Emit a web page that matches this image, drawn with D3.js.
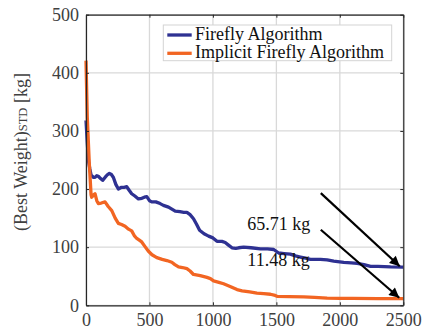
<!DOCTYPE html>
<html><head><meta charset="utf-8">
<script src="https://cdn.jsdelivr.net/npm/d3@7"></script>
<style>body{margin:0;background:#fff}svg{display:block}</style>
</head><body>
<svg id="c" width="431" height="332"></svg>
<script>
const xTicks = [0, 500, 1000, 1500, 2000, 2500];
const yTicks = [0, 100, 200, 300, 400, 500];
const seriesNames = ["Firefly Algorithm", "Implicit Firefly Algorithm"];
const faIter = [0,10,20,30,40,50,60,71,85,97,115,131,150,170,184,200,216,235,255,280,300,321,340,360,385,413,440,460,479,500,518,550,584,610,650,680,703,740,770,795,820,847,870,895,930,966,1000,1032,1071,1097,1120,1150,1180,1203,1242,1300,1374,1430,1479,1518,1560,1610,1650,1689,1730,1768,1847,1900,1952,2031,2090,2137,2190,2242,2300,2400,2500];
const faVal = [318,280,248,235,224,222,220,220,223,222,218,215,220,225,227,225,220,208,200,203,203,204,198,192,188,183,184,186,187,180,178,178,175,172,169,165,162,161,160,160,156,149,140,129,123,119,116,110,110,108,104,99,98,99,100,99,97,97,96,90,89,88,85,83,81,79,79,78,76,74,73,72,70,67,67,66,65.71];
const ifaIter = [0,10,26,40,45,60,71,85,97,120,150,175,203,230,255,280,308,335,360,380,400,420,439,465,492,520,558,600,637,676,700,729,760,795,820,847,900,953,980,1005,1040,1084,1140,1190,1230,1290,1347,1400,1453,1490,1505,1600,1716,1800,1900,2000,2100,2300,2500];
const ifaVal = [421,324,244,190,186,190,192,180,175,176,178,170,163,150,141,139,136,131,128,120,115,112,109,101,93,87,82,79,77,74,70,66,65,63,59,53,51,48,46,42,40,37,32,27,25,23,21,20,19,17,15.5,15,14.5,13.5,12.5,12,11.8,11.6,11.48];
const annoText = ["65.71 kg", "11.48 kg"];
const annoTextAt = [[1271, 129], [1271, 67]];
const arrowFrom = [[1850, 193], [1850, 130]];
const arrowTo = [[2472, 67.2], [2468, 13.0]];

const svg = d3.select("#c");
const m = {l:86, r:403.3, t:14.7, b:305.3};
const x = d3.scaleLinear().domain([0,2500]).range([m.l, m.r]);
const y = d3.scaleLinear().domain([0,500]).range([m.b, m.t]);
const font = "'Liberation Serif', 'DejaVu Serif', 'Noto Serif', serif";
const fs = 18;
const axisCol = "#262626", tickCol = "#404040";

// grid
const g = svg.append("g");
g.selectAll(".gx").data(xTicks).join("line")
  .attr("x1", d=>x(d)).attr("x2", d=>x(d)).attr("y1", m.t).attr("y2", m.b)
  .attr("stroke", "#d9d9d9").attr("stroke-width", 1.3);
g.selectAll(".gy").data(yTicks).join("line")
  .attr("y1", d=>y(d)).attr("y2", d=>y(d)).attr("x1", m.l).attr("x2", m.r)
  .attr("stroke", "#d9d9d9").attr("stroke-width", 1.3);

// lines
const line = d3.line().x(d=>x(d[0])).y(d=>y(d[1]));
const faData = faIter.map((d,i)=>[d, faVal[i]]);
const ifaData = ifaIter.map((d,i)=>[d, ifaVal[i]]);
const colors = ["#2e3192", "#f26522"];
svg.append("path").datum(faData).attr("d", line).attr("fill","none")
  .attr("stroke", colors[0]).attr("stroke-width", 3.3).attr("stroke-linejoin","round");
svg.append("path").datum(ifaData).attr("d", line).attr("fill","none")
  .attr("stroke", colors[1]).attr("stroke-width", 3.3).attr("stroke-linejoin","round");

// axes
const fmt = d3.format("d");
const axB = svg.append("g").attr("transform", `translate(0,${m.b})`)
  .call(d3.axisBottom(x).tickValues(xTicks).tickFormat(fmt).tickSizeInner(-3).tickSizeOuter(0).tickPadding(8));
const axL = svg.append("g").attr("transform", `translate(${m.l},0)`)
  .call(d3.axisLeft(y).tickValues(yTicks).tickFormat(fmt).tickSizeInner(-3).tickSizeOuter(0).tickPadding(7));
const axT = svg.append("g").attr("transform", `translate(0,${m.t})`)
  .call(d3.axisTop(x).tickValues(xTicks).tickSizeInner(-3).tickSizeOuter(0).tickFormat(""));
const axR = svg.append("g").attr("transform", `translate(${m.r},0)`)
  .call(d3.axisRight(y).tickValues(yTicks).tickSizeInner(-3).tickSizeOuter(0).tickFormat(""));
[axB, axL, axT, axR].forEach(a=>{
  a.attr("font-family", font).attr("font-size", fs);
  a.select(".domain").attr("stroke", axisCol).attr("stroke-width", 1.2);
  a.selectAll(".tick line").attr("stroke", axisCol).attr("stroke-width", 1);
  a.selectAll("text").attr("font-family", font).attr("font-size", fs).attr("fill", tickCol);
});

// y label
const yl = svg.append("text").attr("transform", "translate(27,152) rotate(-90)")
  .attr("text-anchor","middle").attr("font-family", font).attr("font-size", fs).attr("fill", tickCol);
yl.append("tspan").text("(Best Weight)");
yl.append("tspan").attr("font-size", 12.5).text("STD");
yl.append("tspan").text(" [kg]");

// legend
const lg = svg.append("g");
lg.append("rect").attr("x", 163.3).attr("y", 25).attr("width", 228.4).attr("height", 35.7)
  .attr("fill", "#fff").attr("stroke", "#d4d4d4").attr("stroke-width", 1);
seriesNames.forEach((n,i)=>{
  const cy = 35 + i*18.3;
  lg.append("line").attr("x1",167.3).attr("x2",191.7).attr("y1",cy).attr("y2",cy)
    .attr("stroke", colors[i]).attr("stroke-width", 3.3);
  lg.append("text").attr("x",195).attr("y",cy+4.8).attr("font-family",font).attr("font-size",fs)
    .attr("fill","#111").text(n);
});

// annotations
svg.append("defs").append("marker").attr("id","ah").attr("viewBox","0 0 10 10")
  .attr("refX",10).attr("refY",5).attr("markerWidth",15).attr("markerHeight",10)
  .attr("markerUnits","userSpaceOnUse").attr("orient","auto")
  .append("path").attr("d","M0,0 L10,5 L0,10 Z").attr("fill","#000");
arrowFrom.forEach((f,i)=>{
  svg.append("line").attr("x1",x(f[0])).attr("y1",y(f[1]))
    .attr("x2",x(arrowTo[i][0])).attr("y2",y(arrowTo[i][1]))
    .attr("stroke","#000").attr("stroke-width",2.2).attr("marker-end","url(#ah)");
});
annoText.forEach((t,i)=>{
  svg.append("text").attr("x",x(annoTextAt[i][0])).attr("y",y(annoTextAt[i][1]))
    .attr("font-family",font).attr("font-size",fs).attr("fill","#111").text(t);
});
</script>
</body></html>
